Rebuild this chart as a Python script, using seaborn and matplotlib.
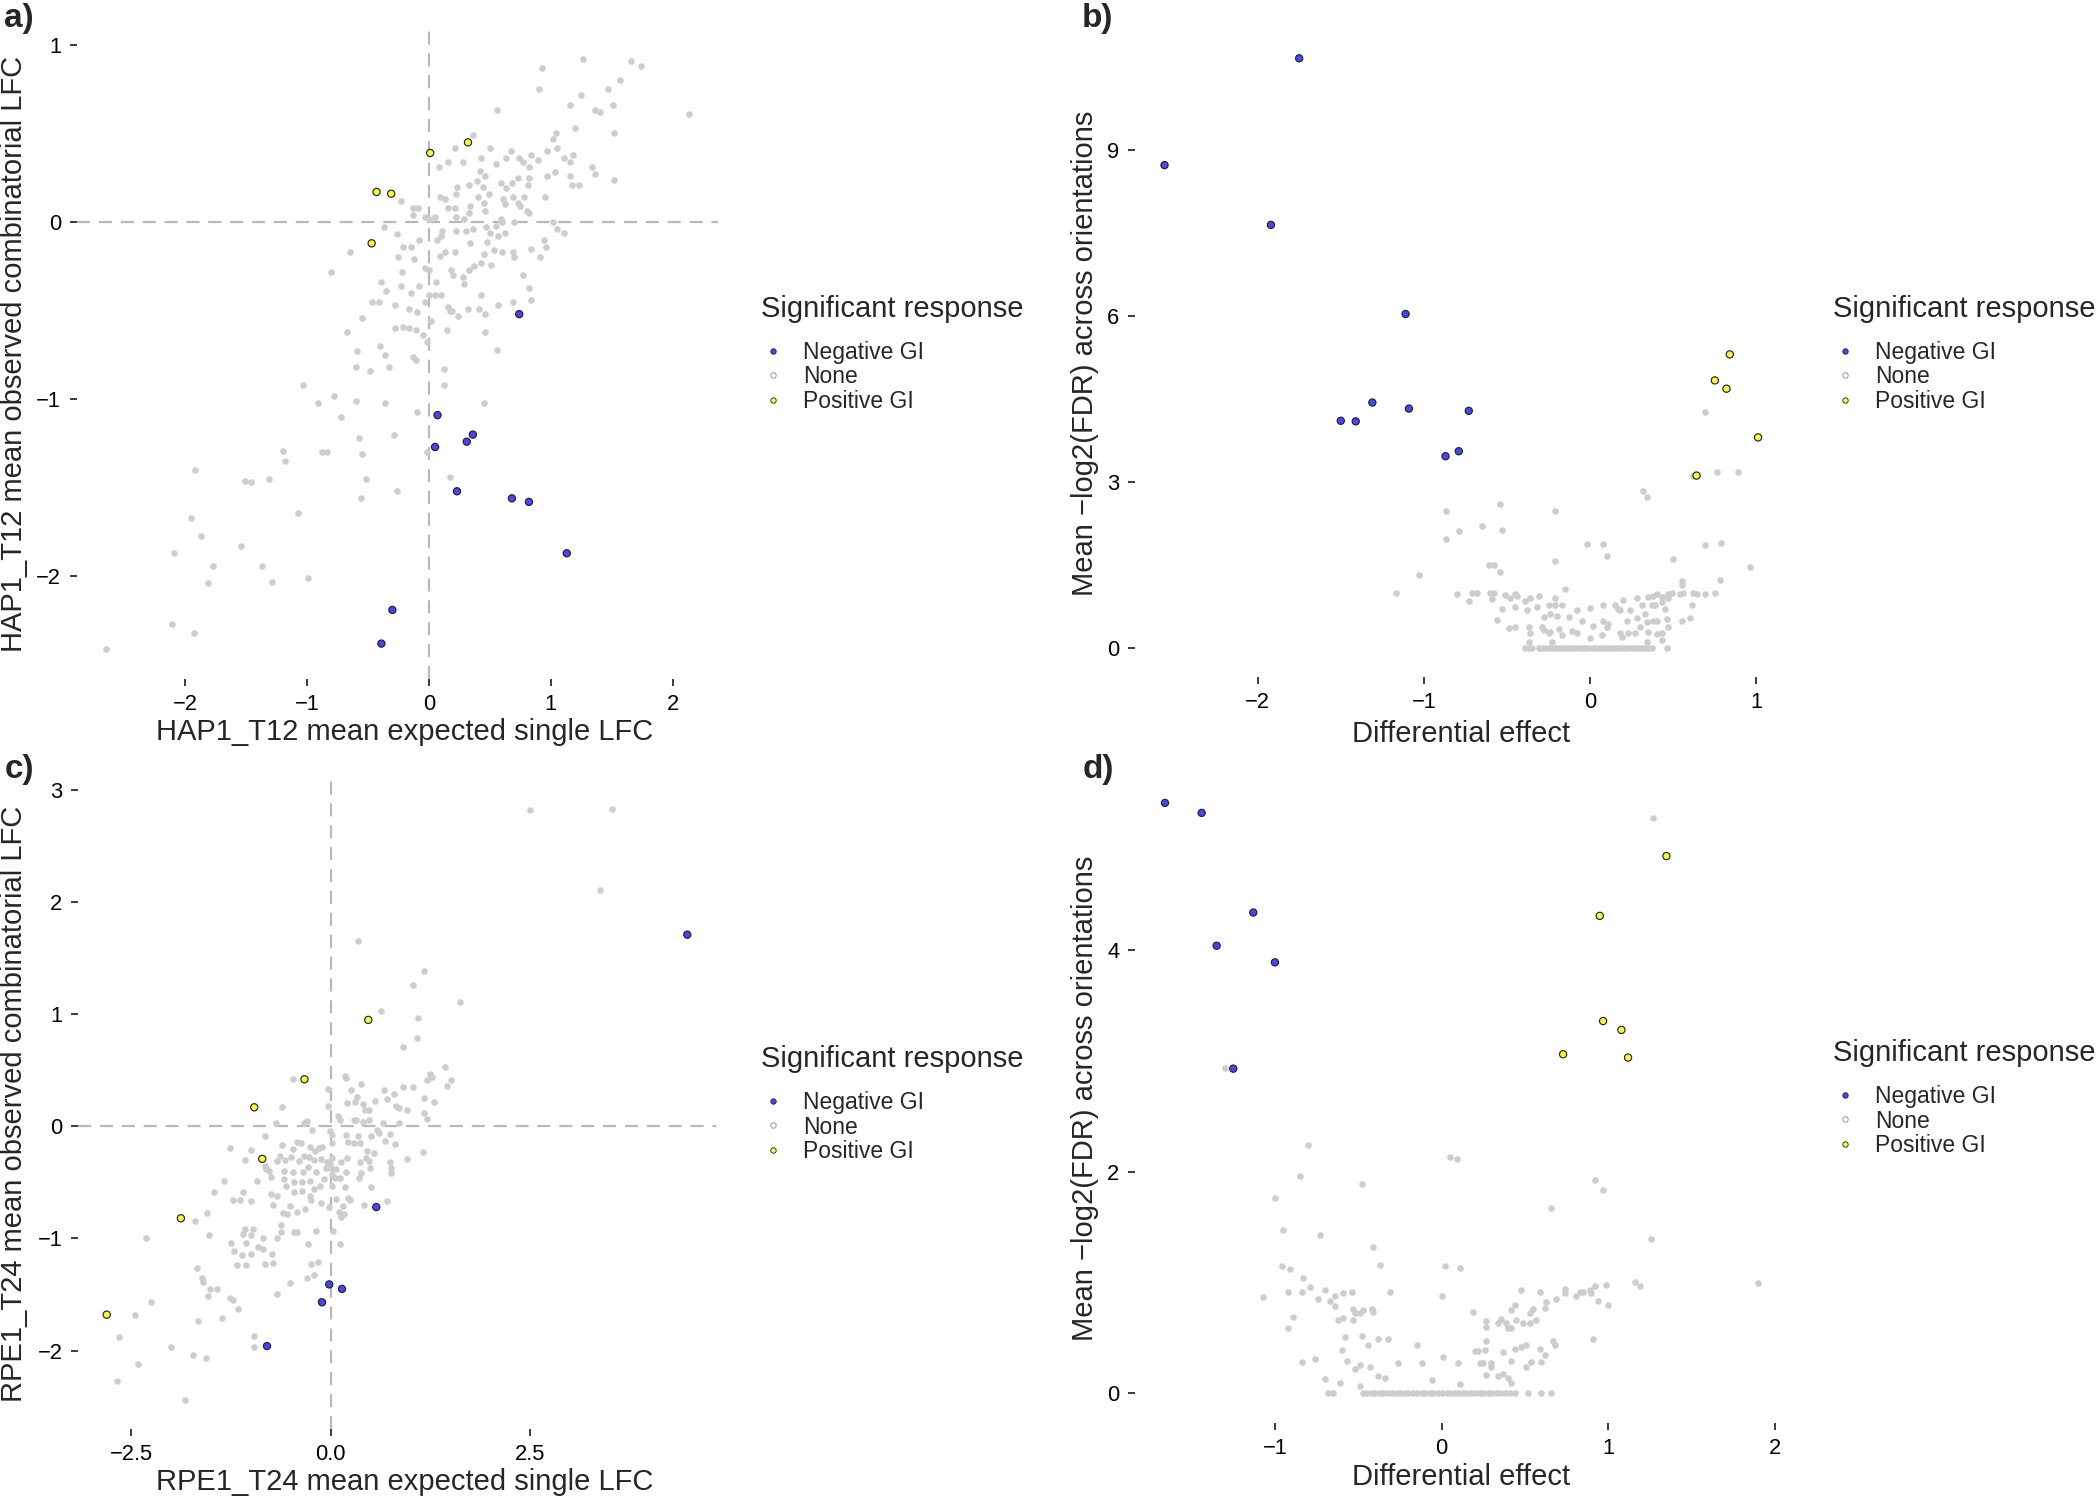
import matplotlib
matplotlib.use("Agg")
import matplotlib.pyplot as plt
import seaborn as sns
import pandas as pd
from matplotlib.lines import Line2D

# ---------------- data ----------------
LEVELS = ["Negative GI", "None", "Positive GI"]

# Panel a: HAP1_T12 expected (x) vs observed (y)
a_neg = [(0.74, -0.52), (0.07, -1.09), (0.05, -1.27), (0.31, -1.24), (0.36, -1.20),
         (0.23, -1.52), (0.68, -1.56), (0.82, -1.58), (1.13, -1.87), (-0.30, -2.19),
         (-0.39, -2.38)]
a_pos = [(0.01, 0.39), (0.32, 0.45), (-0.43, 0.17), (-0.31, 0.16), (-0.47, -0.12)]
a_none = [
    (1.26, 0.92), (1.66, 0.91), (1.74, 0.88), (0.93, 0.87), (1.57, 0.80), (0.90, 0.75),
    (1.47, 0.75), (1.25, 0.72), (1.16, 0.66), (1.51, 0.66), (0.56, 0.63), (1.36, 0.63),
    (1.40, 0.62), (2.13, 0.61), (1.20, 0.53), (1.52, 0.50), (1.04, 0.50), (0.36, 0.49),
    (1.02, 0.47), (0.50, 0.42), (0.21, 0.42), (0.67, 0.40), (0.97, 0.40), (1.05, 0.42),
    (1.18, 0.38), (0.43, 0.36), (0.63, 0.36), (0.74, 0.36), (0.84, 0.38), (1.11, 0.36),
    (0.89, 0.35), (0.16, 0.34), (0.28, 0.34), (0.55, 0.33), (0.77, 0.34), (1.16, 0.34),
    (0.08, 0.31), (0.82, 0.31), (1.34, 0.31), (0.42, 0.29), (1.03, 0.28), (1.36, 0.27),
    (0.97, 0.26), (0.73, 0.25), (0.82, 0.25), (1.52, 0.24), (1.16, 0.26), (0.46, 0.26),
    (0.39, 0.23), (0.59, 0.22), (0.68, 0.22), (0.81, 0.21), (1.17, 0.21), (1.23, 0.21),
    (0.23, 0.20), (0.33, 0.21), (0.44, 0.20), (0.63, 0.19), (0.22, 0.16), (0.49, 0.16),
    (0.40, 0.14), (0.69, 0.14), (0.78, 0.14), (0.09, 0.14), (0.13, 0.13), (0.95, 0.14),
    (-0.23, 0.12), (0.45, 0.11), (0.73, 0.11), (0.62, 0.10), (0.61, 0.13), (0.75, 0.09),
    (0.34, 0.09), (0.16, 0.08), (0.21, 0.08), (-0.13, 0.08), (-0.09, 0.08), (0.46, 0.06),
    (0.80, 0.06), (0.82, 0.05), (0.33, 0.05), (-0.13, 0.04), (0.05, 0.03), (-0.03, 0.03),
    (0.00, 0.02), (0.22, 0.03), (0.29, 0.02), (0.59, 0.02), (0.60, 0.00), (0.70, 0.00),
    (1.02, 0.00), (0.55, -0.02), (0.47, -0.03), (0.36, -0.04), (1.05, -0.04), (1.11, -0.06),
    (0.22, -0.05), (0.30, -0.05), (0.62, -0.06), (0.50, -0.06), (0.11, -0.05), (0.10, -0.08),
    (-0.37, -0.03), (-0.26, -0.07), (0.07, -0.10), (-0.08, -0.10), (0.57, -0.08), (0.48, -0.11),
    (0.34, -0.12), (-0.15, -0.14), (-0.21, -0.14), (0.94, -0.10), (0.96, -0.14), (0.84, -0.15),
    (0.53, -0.16), (0.60, -0.17), (0.13, -0.17), (0.21, -0.17), (0.69, -0.17), (0.45, -0.18),
    (0.09, -0.19), (0.70, -0.20), (-0.25, -0.20), (-0.12, -0.21), (0.91, -0.20), (-0.65, -0.17),
    (0.43, -0.23), (0.51, -0.24), (0.37, -0.25), (0.33, -0.27), (-0.03, -0.26), (0.18, -0.27),
    (0.00, -0.27), (-0.22, -0.28), (-0.80, -0.28), (0.77, -0.30), (0.20, -0.30), (0.06, -0.34),
    (0.28, -0.31), (-0.39, -0.34), (-0.23, -0.36), (-0.08, -0.36), (0.29, -0.35), (0.82, -0.37),
    (-0.35, -0.39), (-0.15, -0.40), (0.00, -0.41), (0.05, -0.41), (0.10, -0.41), (0.43, -0.41),
    (0.84, -0.44), (-0.47, -0.45), (-0.41, -0.45), (-0.03, -0.45), (0.69, -0.45), (0.57, -0.47),
    (-0.28, -0.47), (-0.16, -0.49), (0.16, -0.48), (0.41, -0.49), (0.32, -0.49), (0.17, -0.50),
    (0.19, -0.50), (-0.10, -0.51), (0.46, -0.52), (0.24, -0.53), (-0.55, -0.54), (0.02, -0.56),
    (-0.28, -0.60), (-0.21, -0.59), (-0.16, -0.60), (-0.11, -0.61), (0.15, -0.61), (-0.67, -0.62),
    (0.46, -0.62), (-0.05, -0.64), (-0.02, -0.68), (-0.40, -0.70), (0.56, -0.72), (-0.59, -0.73),
    (-0.36, -0.75), (-0.13, -0.76), (-0.11, -0.78), (-0.60, -0.82), (-0.33, -0.82), (-0.48, -0.84),
    (0.12, -0.83), (0.12, -0.92), (-1.03, -0.92), (-0.78, -0.98), (-0.60, -1.01), (-0.91, -1.02),
    (-0.36, -1.02), (0.45, -1.02), (-0.10, -1.07), (-0.72, -1.10), (-0.29, -1.20), (-0.57, -1.22),
    (-1.20, -1.29), (-1.18, -1.35), (-0.88, -1.30), (-0.84, -1.30), (-0.55, -1.31), (-0.02, -1.30),
    (-1.92, -1.40), (0.17, -1.44), (-1.51, -1.46), (-1.46, -1.47), (-1.31, -1.45), (-0.52, -1.45),
    (-0.26, -1.52), (-0.56, -1.56), (-1.07, -1.64), (-1.95, -1.67), (-1.87, -1.77), (-1.54, -1.83),
    (-2.09, -1.87), (-1.37, -1.94), (-1.77, -1.94), (-0.99, -2.01), (-1.29, -2.03), (-1.81, -2.04),
    (-2.11, -2.27), (-1.93, -2.32), (-2.65, -2.41)]

# Panel b: HAP1 differential effect (x) vs mean -log2(FDR) (y)
b_neg = [(-1.75, 10.65), (-2.56, 8.72), (-1.92, 7.64), (-1.11, 6.03), (-1.31, 4.43),
         (-1.09, 4.32), (-0.73, 4.28), (-1.50, 4.10), (-1.41, 4.09), (-0.87, 3.46), (-0.79, 3.55)]
b_pos = [(0.84, 5.30), (0.75, 4.83), (0.82, 4.68), (1.01, 3.80), (0.64, 3.11)]
b_none = [
    (0.69, 4.25), (0.76, 3.17), (0.89, 3.17), (0.62, 3.11), (0.32, 2.84), (0.34, 2.72),
    (-0.54, 2.59), (-0.87, 2.47), (-0.21, 2.47), (-0.65, 2.19), (-0.53, 2.13), (-0.79, 2.11),
    (-0.87, 1.97), (-0.02, 1.87), (0.08, 1.87), (0.69, 1.85), (0.79, 1.89), (0.10, 1.66),
    (-0.21, 1.57), (0.50, 1.60), (-0.61, 1.49), (-0.58, 1.50), (-0.54, 1.36), (0.96, 1.45),
    (-1.03, 1.32), (0.78, 1.22), (0.55, 1.20), (-0.15, 1.06), (-1.17, 0.98), (0.55, 1.14),
    (-0.80, 0.97), (-0.71, 0.98), (-0.68, 0.98), (-0.60, 0.98), (-0.58, 0.98), (-0.51, 0.96),
    (-0.45, 0.97), (-0.36, 0.89), (-0.31, 0.94), (-0.21, 0.89), (-0.21, 0.77), (0.20, 0.86),
    (0.28, 0.89), (0.35, 0.92), (0.38, 0.93), (0.40, 0.97), (0.43, 0.92), (0.47, 0.97),
    (0.49, 0.98), (0.54, 0.97), (0.56, 0.98), (0.62, 0.98), (0.64, 0.97), (0.69, 0.97),
    (0.75, 0.98), (-0.73, 0.85), (-0.59, 0.88), (-0.48, 0.89), (-0.44, 0.93), (-0.39, 0.85),
    (-0.53, 0.69), (-0.45, 0.73), (-0.32, 0.73), (-0.25, 0.77), (-0.17, 0.77), (-0.08, 0.68),
    (0.00, 0.72), (0.08, 0.77), (0.15, 0.77), (0.17, 0.69), (0.24, 0.68), (0.31, 0.77),
    (0.37, 0.77), (0.43, 0.83), (0.45, 0.70), (0.61, 0.77), (0.47, 0.89), (0.39, 0.78),
    (-0.56, 0.50), (-0.38, 0.68), (-0.28, 0.56), (-0.24, 0.60), (-0.20, 0.57), (-0.13, 0.55),
    (-0.05, 0.48), (0.08, 0.48), (0.18, 0.68), (0.22, 0.48), (0.28, 0.53), (0.33, 0.60),
    (0.38, 0.48), (0.40, 0.48), (0.46, 0.52), (0.55, 0.48), (0.60, 0.54), (0.34, 0.46),
    (-0.49, 0.35), (-0.45, 0.37), (-0.37, 0.37), (-0.29, 0.38), (-0.28, 0.32), (-0.24, 0.29),
    (-0.19, 0.34), (-0.11, 0.31), (0.02, 0.39), (0.10, 0.37), (0.11, 0.42), (0.18, 0.26),
    (0.23, 0.27), (0.27, 0.26), (0.30, 0.37), (0.35, 0.28), (0.40, 0.24), (0.43, 0.27),
    (0.47, 0.38), (-0.36, 0.27), (-0.25, 0.27), (-0.17, 0.22), (-0.08, 0.27), (0.00, 0.18),
    (0.07, 0.22), (0.19, 0.19), (0.34, 0.11), (0.43, 0.14), (-0.37, 0.11), (-0.23, 0.11),
    (-0.39, 0.0), (-0.37, 0.0), (-0.35, 0.0), (-0.31, 0.0), (-0.29, 0.0), (-0.27, 0.0),
    (-0.25, 0.0), (-0.23, 0.0), (-0.21, 0.0), (-0.19, 0.0), (-0.17, 0.0), (-0.15, 0.0),
    (-0.13, 0.0), (-0.11, 0.0), (-0.09, 0.0), (-0.07, 0.0), (-0.05, 0.0), (-0.03, 0.0),
    (-0.01, 0.0), (0.01, 0.0), (0.03, 0.0), (0.05, 0.0), (0.07, 0.0), (0.09, 0.0),
    (0.11, 0.0), (0.13, 0.0), (0.15, 0.0), (0.17, 0.0), (0.19, 0.0), (0.21, 0.0),
    (0.23, 0.0), (0.25, 0.0), (0.27, 0.0), (0.29, 0.0), (0.31, 0.0), (0.33, 0.0),
    (0.35, 0.0), (0.37, 0.0), (0.46, 0.0)]

# Panel c: RPE1_T24 expected (x) vs observed (y)
c_neg = [(4.47, 1.71), (0.57, -0.72), (-0.02, -1.41), (0.14, -1.45), (-0.11, -1.57), (-0.80, -1.96)]
c_pos = [(0.47, 0.95), (-0.33, 0.42), (-0.96, 0.17), (-0.86, -0.29), (-1.88, -0.82), (-2.81, -1.68)]
c_none = [
    (2.50, 2.82), (3.53, 2.83), (3.38, 2.11), (0.34, 1.65), (1.17, 1.39), (1.03, 1.26),
    (1.62, 1.11), (0.63, 1.03), (1.09, 0.97), (1.08, 0.79), (0.90, 0.71), (-0.47, 0.42),
    (1.43, 0.53), (1.24, 0.47), (1.27, 0.44), (1.51, 0.41), (0.18, 0.45), (0.19, 0.43),
    (1.20, 0.41), (0.38, 0.38), (1.46, 0.36), (1.03, 0.35), (0.91, 0.35), (0.67, 0.32),
    (-0.03, 0.33), (0.25, 0.32), (0.33, 0.26), (0.55, 0.23), (0.71, 0.24), (0.79, 0.29),
    (1.17, 0.25), (1.30, 0.22), (0.20, 0.21), (0.30, 0.22), (0.40, 0.20), (0.82, 0.18),
    (0.95, 0.15), (-0.61, 0.17), (-0.03, 0.18), (0.43, 0.15), (0.48, 0.15), (0.86, 0.16),
    (1.17, 0.12), (0.09, 0.09), (0.12, 0.06), (0.29, 0.06), (0.32, 0.06), (0.40, 0.04),
    (0.48, 0.06), (0.66, 0.03), (0.85, 0.03), (1.20, 0.07), (-0.69, 0.03), (-0.30, 0.05),
    (-0.33, 0.03), (-0.23, -0.03), (-0.01, -0.04), (0.02, -0.08), (0.19, -0.08), (0.34, -0.09),
    (0.50, -0.09), (0.60, -0.06), (0.74, -0.07), (0.58, -0.03), (-0.83, -0.09), (-0.43, -0.14),
    (0.02, -0.15), (0.22, -0.14), (0.29, -0.15), (0.36, -0.15), (0.68, -0.13), (0.80, -0.16),
    (-0.61, -0.17), (-0.37, -0.15), (-0.26, -0.18), (-0.15, -0.19), (-0.11, -0.18), (-1.27, -0.19),
    (-1.00, -0.21), (-0.47, -0.20), (-0.20, -0.22), (0.45, -0.22), (0.54, -0.24), (1.16, -0.23),
    (-0.64, -0.26), (-0.50, -0.27), (-0.34, -0.26), (-0.27, -0.27), (-0.12, -0.29), (0.02, -0.28),
    (0.20, -0.28), (0.44, -0.28), (0.96, -0.29), (-1.07, -0.30), (-0.58, -0.30), (-0.67, -0.31),
    (-0.40, -0.31), (-0.21, -0.30), (-0.05, -0.32), (-0.01, -0.34), (0.13, -0.32), (0.36, -0.32),
    (0.48, -0.31), (0.74, -0.32), (-0.83, -0.35), (-0.81, -0.38), (-0.28, -0.36), (-0.06, -0.37),
    (0.02, -0.38), (0.06, -0.38), (0.49, -0.37), (0.75, -0.37), (-0.77, -0.40), (-0.59, -0.40),
    (-0.48, -0.41), (-0.35, -0.41), (-0.18, -0.41), (0.02, -0.43), (0.19, -0.41), (0.38, -0.42),
    (0.76, -0.42), (-1.34, -0.49), (-0.92, -0.49), (-0.75, -0.45), (-0.59, -0.47), (-0.46, -0.50),
    (-0.26, -0.49), (-0.08, -0.47), (0.05, -0.46), (0.12, -0.46), (0.35, -0.46), (-0.56, -0.53),
    (-0.36, -0.50), (-0.13, -0.53), (0.01, -0.53), (0.18, -0.54), (0.50, -0.54), (-1.46, -0.59),
    (-1.10, -0.59), (-0.75, -0.60), (-0.46, -0.59), (-0.36, -0.58), (-0.21, -0.56), (-0.67, -0.62),
    (-0.26, -0.62), (0.22, -0.64), (0.24, -0.66), (-1.23, -0.66), (-1.14, -0.66), (-1.00, -0.67),
    (-0.25, -0.66), (-0.12, -0.68), (0.06, -0.65), (0.70, -0.67), (-0.72, -0.70), (-0.51, -0.71),
    (-0.32, -0.74), (-0.02, -0.72), (0.15, -0.71), (0.42, -0.70), (-1.55, -0.77), (-0.60, -0.77),
    (-0.55, -0.78), (-0.42, -0.76), (0.10, -0.76), (0.17, -0.78), (0.13, -0.81), (-1.70, -0.84),
    (-0.62, -0.88), (-1.07, -0.92), (-0.18, -0.93), (0.03, -0.93), (-0.97, -0.92), (-2.32, -1.00),
    (-1.53, -0.97), (-1.10, -0.96), (-1.00, -0.97), (-0.63, -0.94), (-0.46, -0.94), (-0.43, -0.94),
    (-0.85, -1.00), (-0.67, -1.00), (-1.25, -1.04), (-1.06, -1.04), (-0.29, -1.05), (0.11, -1.05),
    (-0.91, -1.08), (-0.85, -1.09), (-1.21, -1.11), (-1.11, -1.15), (-1.00, -1.14), (-0.74, -1.14),
    (-1.18, -1.24), (-1.06, -1.24), (-0.83, -1.23), (-0.72, -1.22), (-0.16, -1.21), (-0.25, -1.23),
    (-1.68, -1.26), (-1.62, -1.35), (-1.60, -1.39), (-0.51, -1.40), (-0.30, -1.35), (-0.21, -1.33),
    (-1.52, -1.45), (-1.43, -1.45), (-1.54, -1.51), (-1.27, -1.53), (-1.23, -1.55), (-0.67, -1.50),
    (-1.16, -1.63), (-0.13, -1.55), (-2.25, -1.57), (-2.46, -1.68), (-1.36, -1.71), (-1.67, -1.74),
    (-2.65, -1.88), (-0.96, -1.87), (-0.96, -1.97), (-2.00, -1.97), (-1.73, -2.04), (-1.56, -2.07),
    (-2.42, -2.12), (-2.68, -2.27), (-1.83, -2.44)]

# Panel d: RPE1 differential effect (x) vs mean -log2(FDR) (y)
d_neg = [(-1.66, 5.33), (-1.44, 5.24), (-1.13, 4.34), (-1.35, 4.04), (-1.00, 3.89), (-1.25, 2.93)]
d_pos = [(1.35, 4.85), (0.95, 4.31), (0.97, 3.36), (1.08, 3.28), (1.12, 3.03), (0.73, 3.06)]
d_none = [
    (1.27, 5.19), (-1.30, 2.94), (-0.80, 2.24), (0.05, 2.13), (0.09, 2.11), (-0.85, 1.96),
    (0.92, 1.92), (-0.48, 1.89), (0.97, 1.83), (-1.00, 1.76), (0.66, 1.67), (-0.95, 1.47),
    (-0.73, 1.43), (1.26, 1.39), (-0.41, 1.32), (-0.37, 1.16), (-0.96, 1.15), (0.02, 1.15),
    (0.11, 1.13), (-0.91, 1.12), (-0.83, 1.04), (1.90, 0.99), (1.16, 1.00), (1.19, 0.97),
    (-0.79, 0.96), (-0.70, 0.93), (0.48, 0.93), (0.74, 0.94), (0.92, 0.97), (0.99, 0.98),
    (0.83, 0.91), (0.85, 0.91), (0.89, 0.93), (0.90, 0.90), (0.59, 0.91), (-1.07, 0.87),
    (-0.92, 0.91), (-0.84, 0.91), (-0.74, 0.85), (-0.64, 0.88), (-0.59, 0.90), (-0.54, 0.91),
    (-0.31, 0.91), (0.00, 0.88), (0.74, 0.90), (0.81, 0.88), (-0.67, 0.83), (-0.64, 0.79),
    (0.63, 0.82), (0.69, 0.85), (0.94, 0.83), (1.00, 0.80), (-0.53, 0.76), (-0.52, 0.72),
    (-0.47, 0.75), (-0.42, 0.76), (-0.49, 0.72), (-0.41, 0.73), (0.19, 0.73), (0.44, 0.80),
    (0.42, 0.75), (0.55, 0.76), (0.53, 0.72), (0.62, 0.77), (-0.89, 0.69), (-0.62, 0.66),
    (-0.59, 0.68), (-0.53, 0.66), (0.27, 0.65), (0.36, 0.67), (0.39, 0.63), (0.45, 0.66),
    (0.49, 0.63), (0.57, 0.66), (0.53, 0.63), (0.27, 0.60), (0.34, 0.63), (-0.92, 0.59),
    (0.40, 0.59), (0.42, 0.59), (-0.58, 0.51), (-0.48, 0.52), (-0.38, 0.49), (-0.32, 0.49),
    (0.91, 0.49), (0.27, 0.47), (-0.44, 0.43), (0.67, 0.47), (0.68, 0.43), (-0.15, 0.43),
    (0.48, 0.42), (0.44, 0.40), (0.51, 0.43), (0.59, 0.40), (-0.60, 0.39), (0.22, 0.38),
    (0.20, 0.38), (0.26, 0.39), (0.37, 0.37), (0.62, 0.34), (0.01, 0.33), (-0.76, 0.31),
    (-0.57, 0.29), (-0.84, 0.28), (-0.26, 0.27), (-0.12, 0.27), (0.10, 0.27), (0.23, 0.27),
    (0.25, 0.27), (0.30, 0.27), (0.42, 0.29), (0.54, 0.28), (0.60, 0.28), (0.51, 0.24),
    (0.30, 0.24), (-0.49, 0.25), (-0.52, 0.22), (-0.43, 0.24), (0.27, 0.16), (0.34, 0.15),
    (0.37, 0.17), (0.40, 0.14), (-0.38, 0.15), (-0.34, 0.14), (-0.70, 0.13), (-0.06, 0.12),
    (-0.61, 0.09), (-0.49, 0.06), (0.11, 0.08), (0.42, 0.09),
    (-0.68, 0.0), (-0.65, 0.0), (-0.47, 0.0), (-0.45, 0.0), (-0.42, 0.0), (-0.40, 0.0),
    (-0.37, 0.0), (-0.35, 0.0), (-0.32, 0.0), (-0.30, 0.0), (-0.27, 0.0), (-0.25, 0.0),
    (-0.22, 0.0), (-0.20, 0.0), (-0.17, 0.0), (-0.15, 0.0), (-0.12, 0.0), (-0.10, 0.0),
    (-0.07, 0.0), (-0.05, 0.0), (-0.02, 0.0), (0.00, 0.0), (0.03, 0.0), (0.05, 0.0),
    (0.08, 0.0), (0.10, 0.0), (0.13, 0.0), (0.15, 0.0), (0.18, 0.0), (0.20, 0.0),
    (0.23, 0.0), (0.25, 0.0), (0.28, 0.0), (0.30, 0.0), (0.33, 0.0), (0.35, 0.0),
    (0.38, 0.0), (0.41, 0.0), (0.44, 0.0), (0.52, 0.0), (0.60, 0.0), (0.66, 0.0)]

# labels / ticks
a_xlabel = "HAP1_T12 mean expected single LFC"
a_ylabel = "HAP1_T12 mean observed combinatorial LFC"
c_xlabel = "RPE1_T24 mean expected single LFC"
c_ylabel = "RPE1_T24 mean observed combinatorial LFC"
bd_xlabel = "Differential effect"
bd_ylabel = "Mean \u2212log2(FDR) across orientations"
legend_title = "Significant response"

a_xticks = [-2, -1, 0, 1, 2]
a_yticks = [-2, -1, 0, 1]
b_xticks = [-2, -1, 0, 1]
b_yticks = [0, 3, 6, 9]
c_xticks = [-2.5, 0.0, 2.5]
c_xticklabels = ["\u22122.5", "0.0", "2.5"]
c_yticks = [-2, -1, 0, 1, 2, 3]
d_xticks = [-1, 0, 1, 2]
d_yticks = [0, 2, 4]

# ---------------- style ----------------
sns.set_theme(style="white")
plt.rcParams['font.family'] = ['Liberation Sans', 'DejaVu Sans']
plt.rcParams['axes.unicode_minus'] = True

GRAY = "#CDCDCD"
BLUE = "#4646F2"
YELLOW = "#F8F83C"
EDGE = "#202020"
palette = {"Negative GI": BLUE, "None": GRAY, "Positive GI": YELLOW}

W, H = 2100, 1500
fig = plt.figure(figsize=(14, 10), dpi=150)


def make_frame(neg, none, pos):
    rows = []
    for lab, pts in (("None", none), ("Negative GI", neg), ("Positive GI", pos)):
        for x, y in pts:
            rows.append((x, y, lab))
    return pd.DataFrame(rows, columns=["x", "y", "Significant response"])


def add_axes(l, r, t, b):
    return fig.add_axes([l / W, 1 - b / H, (r - l) / W, (b - t) / H])


def fig2ax(ax, px, py):
    disp = fig.transFigure.transform((px / W, 1 - py / H))
    return ax.transAxes.inverted().transform(disp)


def draw_panel(box, df, xlim, ylim, xticks, yticks, xlabel, ylabel, xlab_pos, ylab_pos,
               tag, tag_pos, leg_x, leg_title_y, quadrant=False, xticklabels=None):
    ax = add_axes(*box)
    if quadrant:
        ax.axhline(0, color="#B8B8B8", lw=1.05, dashes=(6, 4), zorder=1)
        ax.axvline(0, color="#B8B8B8", lw=1.05, dashes=(6, 4), zorder=1)
    none = df[df["Significant response"] == "None"]
    sig = df[df["Significant response"] != "None"]
    sns.scatterplot(data=none, x="x", y="y", color=GRAY, s=10, linewidth=0,
                    ax=ax, legend=False, zorder=2)
    sns.scatterplot(data=sig, x="x", y="y", hue="Significant response",
                    hue_order=["Negative GI", "Positive GI"], palette=palette,
                    s=12, edgecolor=EDGE, linewidth=0.55, ax=ax, legend=False, zorder=3)
    ax.set_xlim(*xlim)
    ax.set_ylim(*ylim)
    ax.set_xticks(xticks)
    if xticklabels is not None:
        ax.set_xticklabels(xticklabels)
    ax.set_yticks(yticks)
    sns.despine(ax=ax, left=True, bottom=True, top=True, right=True)
    ax.tick_params(axis="both", which="major", length=3.4, width=0.9, color="#333333",
                   pad=4.0, labelsize=10.5, labelcolor="black", bottom=True, left=True)
    ax.grid(False)
    ax.set_xlabel(xlabel, fontsize=14, va="center", ha="center")
    ax.set_ylabel(ylabel, fontsize=14, va="center", ha="center")
    ax.xaxis.set_label_coords(*fig2ax(ax, *xlab_pos))
    ax.yaxis.set_label_coords(*fig2ax(ax, *ylab_pos))
    fig.text(tag_pos[0] / W, 1 - tag_pos[1] / H, tag, fontsize=16, fontweight="bold",
             ha="left", va="center")
    # legend
    fig.text(leg_x / W, 1 - leg_title_y / H, legend_title, fontsize=14,
             ha="left", va="center")
    handles = [
        Line2D([], [], linestyle="", marker="o", markersize=2.6, markerfacecolor=BLUE,
               markeredgecolor=EDGE, markeredgewidth=0.4),
        Line2D([], [], linestyle="", marker="o", markersize=2.6, markerfacecolor="white",
               markeredgecolor="#9A9A9A", markeredgewidth=0.5),
        Line2D([], [], linestyle="", marker="o", markersize=2.6, markerfacecolor=YELLOW,
               markeredgecolor=EDGE, markeredgewidth=0.4),
    ]
    ax.legend(handles, ["Negative GI", "None", "Positive GI"], loc="center left",
              bbox_to_anchor=((leg_x + 2) / W, 1 - (leg_title_y + 68) / H),
              bbox_transform=fig.transFigure, frameon=False, fontsize=11,
              handlelength=0.9, handletextpad=0.85, labelspacing=0.08,
              borderpad=0, borderaxespad=0)
    return ax


draw_panel((76.5, 718, 29, 679), make_frame(a_neg, a_none, a_pos),
           (-2.89, 2.37), (-2.58, 1.09), a_xticks, a_yticks, a_xlabel, a_ylabel,
           (405, 732), (14, 354), "a)", (4, 18), 761, 309, quadrant=True)

draw_panel((1134.6, 1788, 29, 677), make_frame(b_neg, b_none, b_pos),
           (-2.74, 1.19), (-0.53, 11.18), b_xticks, b_yticks, bd_xlabel, bd_ylabel,
           (1461, 734), (1085, 353), "b)", (1082, 18), 1833, 309)

draw_panel((78, 716, 780, 1429), make_frame(c_neg, c_none, c_pos),
           (-3.17, 4.83), (-2.70, 3.09), c_xticks, c_yticks, c_xlabel, c_ylabel,
           (405, 1482), (14, 1104), "c)", (5, 769), 761, 1059, quadrant=True,
           xticklabels=c_xticklabels)

draw_panel((1135, 1788, 773, 1423), make_frame(d_neg, d_none, d_pos),
           (-1.84, 2.08), (-0.27, 5.60), d_xticks, d_yticks, bd_xlabel, bd_ylabel,
           (1461, 1477), (1085, 1098), "d)", (1083, 769), 1833, 1053)

fig.savefig("out.png", dpi=150, facecolor="white")
